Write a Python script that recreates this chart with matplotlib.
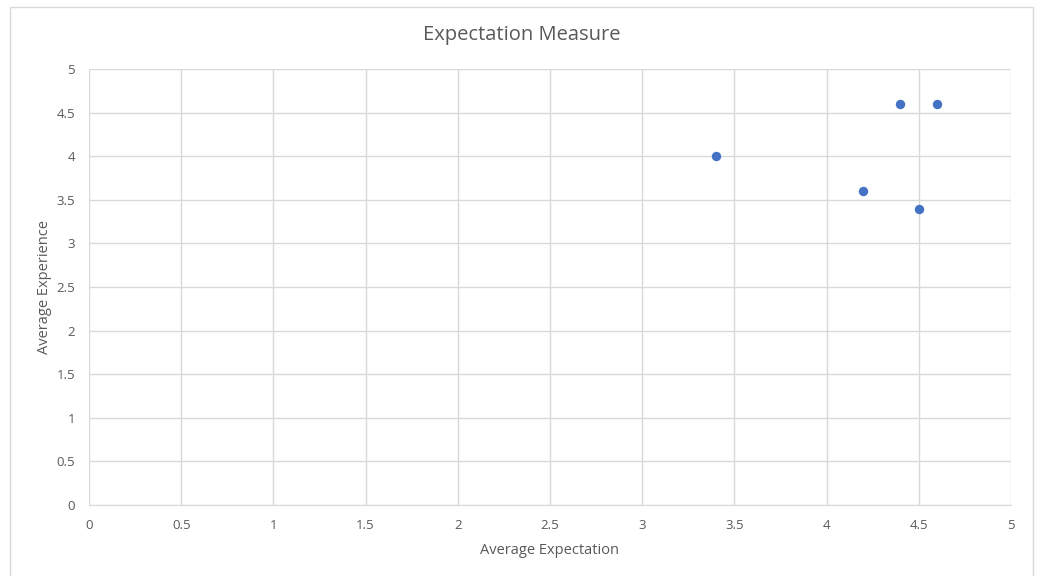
import matplotlib
matplotlib.use("Agg")
import matplotlib.pyplot as plt
from matplotlib.patches import Rectangle

expectation = [3.4, 4.2, 4.4, 4.6, 4.5]
experience = [4.0, 3.6, 4.6, 4.6, 3.4]
ticks = [0, 0.5, 1, 1.5, 2, 2.5, 3, 3.5, 4, 4.5, 5]
tick_labels = ["0", "0.5", "1", "1.5", "2", "2.5", "3", "3.5", "4", "4.5", "5"]

plt.rcParams['font.family'] = ['Open Sans', 'DejaVu Sans']

fig = plt.figure(figsize=(10.39, 5.76), dpi=100)
fig.patch.set_facecolor('white')
# outer chart border
fig.patches.append(Rectangle((10/1039, -0.05), (1033-10)/1039, 1 - 7/576 + 0.05,
                             transform=fig.transFigure, fill=False,
                             edgecolor='#d9d9d9', linewidth=1))

ax = fig.add_axes([89/1039, 1 - 505/576, (1011-89)/1039, (505-69)/576])
ax.scatter(expectation, experience, s=46, color='#4472C4', zorder=3, linewidths=0)
ax.set_xlim(0, 5)
ax.set_ylim(0, 5)
ax.set_xticks(ticks)
ax.set_xticklabels(tick_labels)
ax.set_yticks(ticks)
ax.set_yticklabels(tick_labels)
ax.grid(True, color='#d9d9d9', linewidth=1)
ax.set_axisbelow(True)
for s in ['top', 'right']:
    ax.spines[s].set_visible(False)
for s in ['left', 'bottom']:
    ax.spines[s].set_color('#d9d9d9')
ax.spines['left'].set_visible(False)
ax.tick_params(axis='x', length=0, labelsize=9.5, colors='#595959', pad=10)
ax.tick_params(axis='y', length=0, labelsize=9.5, colors='#595959', pad=10)
ax.set_xlabel('Average Expectation', fontsize=10.5, color='#595959', labelpad=8)
ax.set_ylabel('Average Experience', fontsize=10.5, color='#595959', labelpad=3)
fig.text(0.5022, 1 - 35/576, 'Expectation Measure', ha='center', va='center',
         fontsize=14.5, color='#595959')

fig.savefig('out.png', dpi=100, facecolor='white')
